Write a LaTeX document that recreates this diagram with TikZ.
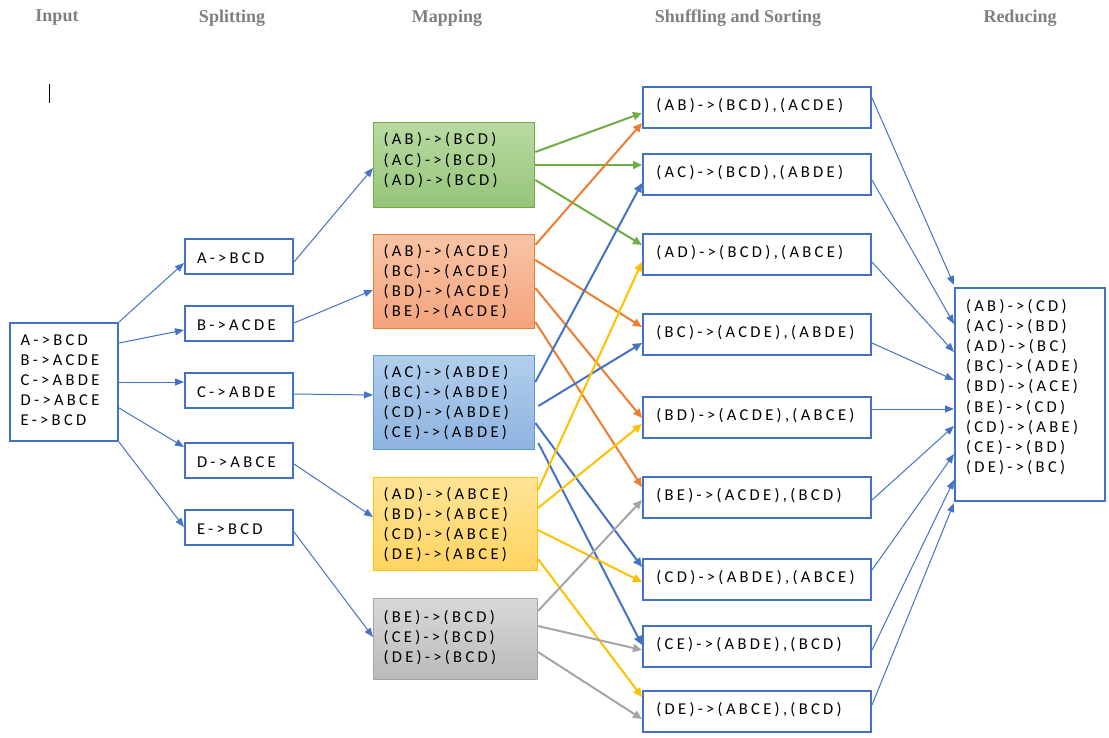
\documentclass[tikz,border=0pt]{standalone}
\usepackage{fontspec}
\setmainfont{Carlito}
\newfontfamily\boxfont{Carlito}[LetterSpace=20]
\newfontfamily\hdfont{Liberation Serif}
\usetikzlibrary{arrows.meta}
\definecolor{ofblue}{HTML}{4472C4}
\definecolor{ofgreen}{HTML}{70AD47}
\definecolor{oforange}{HTML}{ED7D31}
\definecolor{ofyellow}{HTML}{FFC000}
\definecolor{ofgray}{HTML}{A5A5A5}
\definecolor{oflblue}{HTML}{5B9BD5}
\definecolor{hdgray}{HTML}{7F7F7F}
\begin{document}
\begin{tikzpicture}[x=0.75pt,y=-0.75pt,
  hd/.style={font=\hdfont\bfseries\fontsize{13.5}{16}\selectfont,text=hdgray},
  box/.style={draw=ofblue,line width=1.5pt,anchor=north west,align=left,text height=9pt,
    font=\boxfont\fontsize{12.4}{15.1}\selectfont},
  splitbox/.style={box,minimum width=81pt,minimum height=26pt,inner xsep=9pt,text width=63pt,
    text height=11pt,text depth=1pt},
  mapbox/.style={box,line width=0.75pt,inner xsep=7.5pt,text width=106pt},
  shufbox/.style={box,minimum width=171pt,minimum height=30.75pt,inner xsep=9.75pt,
    text width=151pt,text depth=5pt},
  arr/.style={draw=ofblue,line width=0.75pt,-{Triangle[length=6.75pt,width=5.25pt]}},
  carr/.style={line width=1.5pt,-{Triangle[length=6.75pt,width=6pt]}}]
\useasboundingbox (0,0) rectangle (1109,738);
% column heads
\node[hd] (hIn) at (57,18) {Input};
\node[hd] (hSp) at (232,18) {Splitting};
\node[hd] (hMa) at (447,18) {Mapping};
\node[hd] (hSh) at (738,18) {Shuffling and Sorting};
\node[hd] (hRe) at (1020,18) {Reducing};
\draw[line width=0.75pt] (49,84) -- (49,103);
% input
\node[box,minimum width=81pt,minimum height=88.5pt,inner xsep=8pt,text width=65pt,
  text depth=64.4pt] (in) at (9,322)
  {A->BCD\\B->ACDE\\C->ABDE\\D->ABCE\\E->BCD};
% splitting
\foreach \n/\y/\t in {A/238/{A->BCD},B/305/{B->ACDE},C/372/{C->ABDE},
  D/442/{D->ABCE},E/509/{E->BCD}}
  \node[splitbox] (sp\n) at (184,\y) {\t};
% mapping
\node[mapbox,draw=ofgreen,top color={rgb,255:red,184;green,218;blue,162},
  bottom color={rgb,255:red,150;green,196;blue,121},minimum width=120.75pt,minimum height=63.75pt,
  text depth=39pt] (map1) at (373,122)
  {(AB)->(BCD)\\(AC)->(BCD)\\(AD)->(BCD)};
\node[mapbox,draw=oforange,top color={rgb,255:red,248;green,196;blue,166},
  bottom color={rgb,255:red,244;green,163;blue,124},minimum width=120.75pt,minimum height=70.5pt,
  text depth=46.5pt] (map2) at (373,234)
  {(AB)->(ACDE)\\(BC)->(ACDE)\\(BD)->(ACDE)\\(BE)->(ACDE)};
\node[mapbox,draw=oflblue,top color={rgb,255:red,178;green,206;blue,236},
  bottom color={rgb,255:red,142;green,180;blue,225},minimum width=120.75pt,minimum height=70.5pt,
  text depth=46.5pt] (map3) at (373,355)
  {(AC)->(ABDE)\\(BC)->(ABDE)\\(CD)->(ABDE)\\(CE)->(ABDE)};
\node[mapbox,draw=ofyellow,top color={rgb,255:red,255;green,227;blue,150},
  bottom color={rgb,255:red,255;green,212;blue,96},minimum width=123pt,minimum height=69.75pt,
  text width=108pt,text depth=46.5pt] (map4) at (373,477)
  {(AD)->(ABCE)\\(BD)->(ABCE)\\(CD)->(ABCE)\\(DE)->(ABCE)};
\node[mapbox,draw=ofgray,top color={rgb,255:red,216;green,216;blue,216},
  bottom color={rgb,255:red,186;green,186;blue,186},minimum width=123pt,minimum height=60.75pt,
  text width=108pt,text depth=33.8pt] (map5) at (373,598)
  {(BE)-{}>(BCD)\\(CE)-{}>(BCD)\\(DE)-{}>(BCD)};
% shuffling and sorting
\foreach \n/\y/\t in {AB/86/{(AB)->(BCD),(ACDE)},
  AC/153/{(AC)->(BCD),(ABDE)},
  AD/233/{(AD)->(BCD),(ABCE)},
  BC/313/{(BC)->(ACDE),(ABDE)},
  BD/396/{(BD)->(ACDE),(ABCE)},
  BE/476/{(BE)->(ACDE),(BCD)},
  CD/558/{(CD)->(ABDE),(ABCE)},
  CE/625/{(CE)->(ABDE),(BCD)},
  DE/690/{(DE)->(ABCE),(BCD)}}
  \node[shufbox] (sh\n) at (642,\y) {\mbox{\t}};
% reducing
\node[box,minimum width=112.5pt,minimum height=159.75pt,inner xsep=8.25pt,text width=96pt,
  text depth=133.6pt] (red) at (954,287)
  {(AB)->(CD)\\(AC)->(BD)\\(AD)->(BC)\\(BC)->(ADE)\\(BD)->(ACE)\\
   (BE)->(CD)\\(CD)->(ABE)\\(CE)->(BD)\\(DE)->(BC)};
% input -> splitting
\draw[arr] (in.north east) -- (spA.west |- 0,263);
\draw[arr] (in.east |- 0,343) -- (spB.west |- 0,330);
\draw[arr] (in.east |- 0,382) -- (spC.west |- 0,382);
\draw[arr] (in.east |- 0,408) -- (spD.west |- 0,447);
\draw[arr] (in.south east) -- (spE.west |- 0,527);
% splitting -> mapping
\draw[arr] (spA.east |- 0,262) -- (map1.west |- 0,168);
\draw[arr] (spB.east |- 0,323) -- (map2.west |- 0,290);
\draw[arr] (spC.east |- 0,394) -- (map3.west |- 0,395);
\draw[arr] (spD.east |- 0,464) -- (map4.west |- 0,517);
\draw[arr] (spE.east |- 0,532) -- (map5.west |- 0,637);
% mapping -> shuffling
\draw[carr,ofgreen] (map1.east |- 0,152) -- (shAB.west |- 0,113);
\draw[carr,ofgreen] (map1.east |- 0,165) -- (shAC.west |- 0,165);
\draw[carr,ofgreen] (map1.east |- 0,180) -- (shAD.west |- 0,245);
\draw[carr,oforange] (map2.east |- 0,245) -- (shAB.west |- 0,123);
\draw[carr,oforange] (map2.east |- 0,260) -- (shBC.west |- 0,327);
\draw[carr,oforange] (map2.east |- 0,288) -- (shBD.west |- 0,418);
\draw[carr,oforange] (map2.east |- 0,322) -- (shBE.west |- 0,487);
\draw[carr,ofblue] (map3.east |- 0,382) -- (shAC.west |- 0,183);
\draw[carr,ofblue] ([xshift=2.25pt]map3.east |- 0,406) -- (shBC.west |- 0,343);
\draw[carr,ofblue] (map3.east |- 0,423) -- (shCD.west |- 0,567);
\draw[carr,ofblue] ([xshift=2.25pt]map3.east |- 0,443) -- (shCE.west |- 0,645);
\draw[carr,ofyellow] (map4.east |- 0,490) -- (shAD.west |- 0,262);
\draw[carr,ofyellow] (map4.east |- 0,508) -- (shBD.west |- 0,424);
\draw[carr,ofyellow] (map4.east |- 0,530) -- (shCD.west |- 0,582);
\draw[carr,ofyellow] (map4.east |- 0,559) -- (shDE.west |- 0,697);
\draw[carr,ofgray] (map5.east |- 0,611) -- (shBE.west |- 0,500);
\draw[carr,ofgray] (map5.east |- 0,626) -- (shCE.west |- 0,650);
\draw[carr,ofgray] (map5.east |- 0,652) -- (shDE.west |- 0,719);
% shuffling -> reducing
\draw[arr] (shAB.east |- 0,98) -- (red.west |- 0,285);
\draw[arr] (shAC.east |- 0,180) -- (red.west |- 0,324);
\draw[arr] (shAD.east |- 0,262) -- (red.west |- 0,352);
\draw[arr] (shBC.east |- 0,343) -- (red.west |- 0,380);
\draw[arr] (shBD.east |- 0,409) -- (red.west |- 0,409);
\draw[arr] (shBE.east |- 0,500) -- (red.west |- 0,426);
\draw[arr] (shCD.east |- 0,570) -- (red.west |- 0,454);
\draw[arr] (shCE.east |- 0,650) -- (red.west |- 0,480);
\draw[arr] (shDE.east |- 0,705) -- (red.west |- 0,503);
\end{tikzpicture}
\end{document}
